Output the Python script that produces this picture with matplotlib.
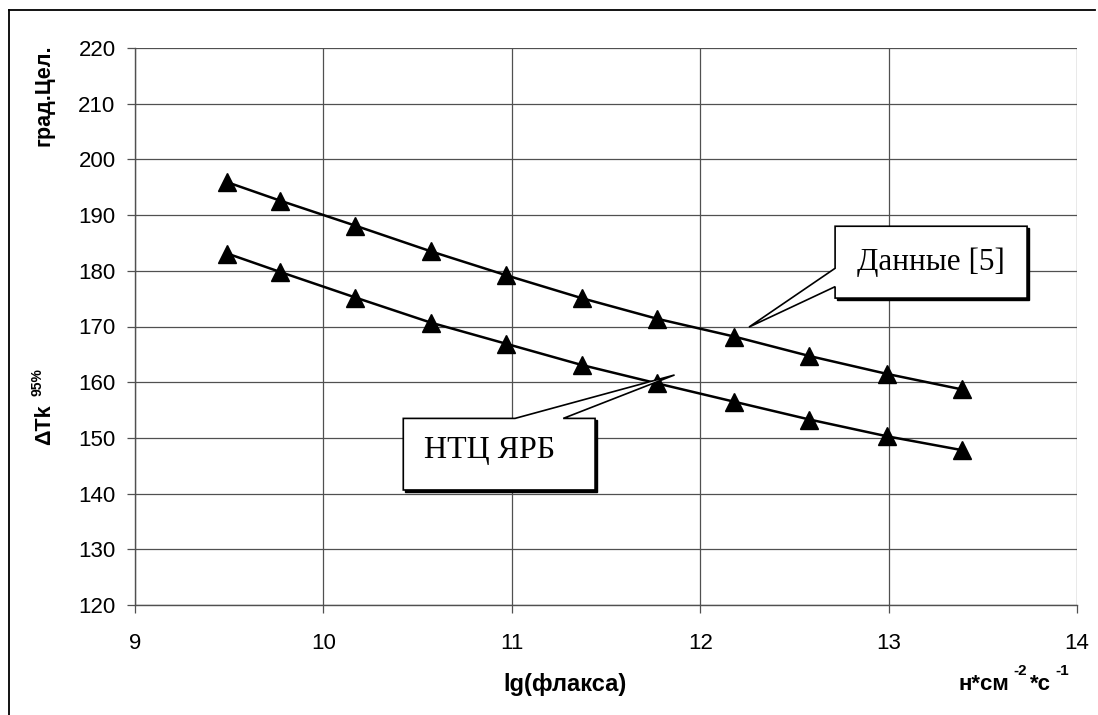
import matplotlib
matplotlib.use("Agg")
import matplotlib.pyplot as plt
import matplotlib.transforms as mtransforms
from matplotlib.patches import Polygon, Rectangle
from matplotlib.lines import Line2D

plt.rcParams['font.family'] = ['Liberation Sans', 'DejaVu Sans']

# lg(flux) values and dTk(95%) for the two data sets
lg_flux = [9.49, 9.77, 10.17, 10.57, 10.97, 11.37, 11.77, 12.18, 12.58, 12.99, 13.39]
dtk_ref5 = [195.9, 192.6, 188.1, 183.5, 179.2, 175.1, 171.4, 168.2, 164.7, 161.5, 158.7]
dtk_ntc = [183.1, 179.8, 175.2, 170.7, 166.9, 163.1, 159.8, 156.5, 153.3, 150.3, 147.8]

xticks = [9, 10, 11, 12, 13, 14]
yticks = [120, 130, 140, 150, 160, 170, 180, 190, 200, 210, 220]

label_ref5 = 'Данные [5]'
label_ntc = 'НТЦ ЯРБ'

# callout boxes (x0, y0, x1, y1) and their pointer wedges, data coords
box_ref5 = (12.716, 175.1, 13.735, 188.0)
wedge_ref5 = [(12.716, 177.15), (12.259, 169.9), (12.716, 180.45)]
box_ntc = (10.424, 140.65, 11.442, 153.5)
wedge_ntc = [(11.017, 153.5), (11.864, 161.3), (11.273, 153.5)]


def px(x, y):
    # pixel position -> figure fraction
    return x / 1098, 1 - y / 715


fig = plt.figure(figsize=(10.98, 7.15), dpi=100)
ax = fig.add_axes([135 / 1098, 1 - 605 / 715, 942 / 1098, 557 / 715])

ax.plot(lg_flux, dtk_ref5, color='black', lw=1.8, marker='^', ms=13, zorder=3)
ax.plot(lg_flux, dtk_ntc, color='black', lw=1.8, marker='^', ms=13, zorder=3)

ax.set_xlim(9, 14)
ax.set_ylim(120, 220)
ax.set_xticks(xticks)
ax.set_yticks(yticks)
ax.grid(True, color='#505050', lw=0.9)
ax.set_axisbelow(True)
for s in ['top', 'right']:
    ax.spines[s].set_visible(False)
for s in ['left', 'bottom']:
    ax.spines[s].set_color('#505050')
    ax.spines[s].set_linewidth(1.0)
ax.tick_params(axis='y', direction='out', length=6, width=0.9, color='#505050',
               labelsize=16, pad=8)
ax.tick_params(axis='x', direction='out', length=6, width=0.9, color='#505050',
               labelsize=16, pad=14)

# callouts, shadow only under the box part
shadow = mtransforms.offset_copy(ax.transData, fig=fig, x=2, y=-2, units='dots')
# outline order: ref5 wedge sits on the left side, ntc wedge on the top side
x0, y0, x1, y1 = box_ref5
pts_ref5 = [(x0, y1), (x1, y1), (x1, y0), (x0, y0)] + wedge_ref5
x0, y0, x1, y1 = box_ntc
pts_ntc = [(x0, y1)] + wedge_ntc + [(x1, y1), (x1, y0), (x0, y0)]
for box, pts in [(box_ref5, pts_ref5), (box_ntc, pts_ntc)]:
    x0, y0, x1, y1 = box
    ax.add_patch(Rectangle((x0, y0), x1 - x0, y1 - y0, facecolor='black',
                           edgecolor='black', lw=1.0, transform=shadow, zorder=4))
    ax.add_patch(Polygon(pts, closed=True, facecolor='white', edgecolor='black',
                         lw=1.2, zorder=5))
ax.text(13.225, 180.1, label_ref5, family=['Liberation Serif', 'DejaVu Serif'],
        fontsize=22.5, ha='center', va='baseline', zorder=6)
ax.text(10.884, 146.4, label_ntc, family=['Liberation Serif', 'DejaVu Serif'],
        fontsize=23, ha='center', va='baseline', zorder=6)

# axis titles
fig.text(*px(43.5, 95.5), 'град.Цел.', rotation=90, fontsize=15.5,
         fontweight='bold', ha='center', va='center')
fig.text(*px(44.5, 425), 'ΔTk', rotation=90, fontsize=15.5,
         fontweight='bold', ha='center', va='center')
fig.text(*px(37, 382.5), '95%', rotation=90, fontsize=10,
         fontweight='bold', ha='center', va='center')
fig.text(*px(565, 685), 'lg(флакса)', fontsize=17,
         fontweight='bold', ha='center', va='center')
# unit: н*см^-2*с^-1
fig.text(*px(958, 690), 'н*см', fontsize=16, fontweight='bold', ha='left', va='baseline')
fig.text(*px(1013, 675), '-2', fontsize=11, fontweight='bold', ha='left', va='baseline')
fig.text(*px(1030, 690), '*с', fontsize=16, fontweight='bold', ha='left', va='baseline')
fig.text(*px(1055, 675), '-1', fontsize=11, fontweight='bold', ha='left', va='baseline')

# outer frame of the original picture
fig.add_artist(Line2D([9 / 1098, 1095 / 1098], [1 - 10 / 715, 1 - 10 / 715],
                      transform=fig.transFigure, color='black', lw=1.3))
fig.add_artist(Line2D([9 / 1098, 9 / 1098], [1 - 10 / 715, 0],
                      transform=fig.transFigure, color='black', lw=1.3))

fig.savefig('out.png', dpi=100, facecolor='white')
